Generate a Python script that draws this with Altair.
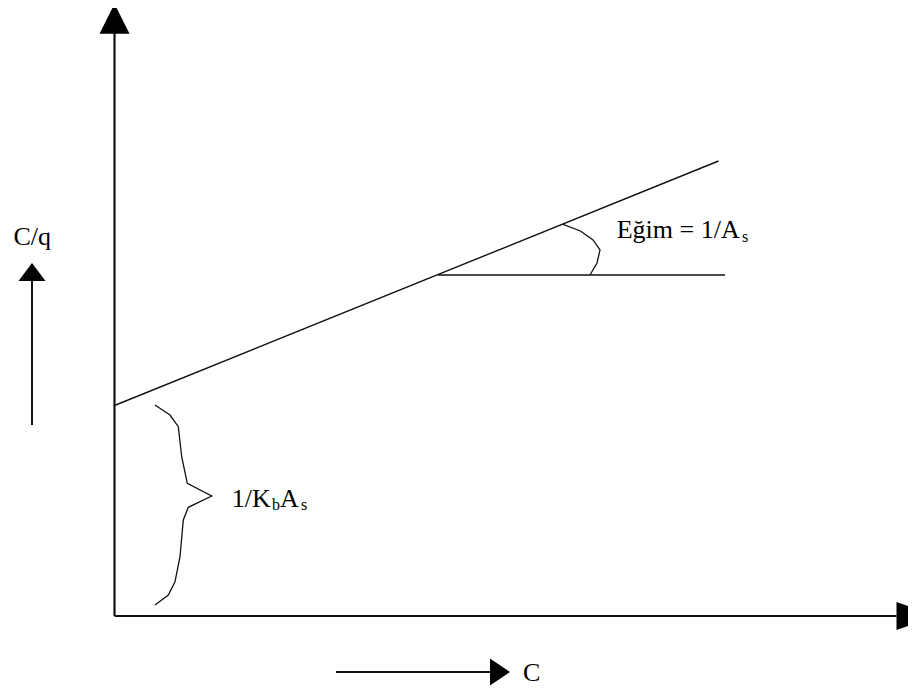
import altair as alt
import pandas as pd

# Schematic units: origin at the axes' corner, C to the right, C/q upwards
X_DOMAIN = [-106.5, 793.5]
Y_DOMAIN = [-72, 608]

# axes
axis_seg = ["C/q", "C/q", "C", "C"]
axis_x = [0, 0, 0, 782]
axis_y = [0, 583, 0, 0]

# straight line C/q = 1/(Kb As) + C/As
fit_x = [0, 604]
fit_y = [210.5, 455]

# horizontal reference for the slope angle
level_x = [323.5, 610.5]
level_y = [341, 341]

# angle arc
arc_x = [448.5, 466, 478.5, 485.5, 482.5, 475.5]
arc_y = [391.7, 385, 376, 366, 353, 341]

# brace for the intercept
brace_x = [40.5, 55.5, 63.8, 67.2, 72.8, 97.2, 73.8, 68.8, 65.5, 60.5, 53.8, 40.5]
brace_y = [211, 201, 189.3, 159.3, 132.7, 120, 108.7, 96, 59.3, 34.3, 21, 11]

# small direction arrows
cq_arrow_x = [-82.5, -82.5]
cq_arrow_y = [191, 335]
c_arrow_x = [221.5, 375.5]
c_arrow_y = [-56, -56]

# arrow heads (positions)
head_top = ([0], [597.3])
head_right = ([801.5], [0])
head_cq = ([-82.5], [344])
head_c = ([385.5], [-56])

# labels
label_text = ["C/q", "Eğim = 1/A", "1/K", "A", "C"]
label_x = [-101, 502.2, 117.2, 165.5, 408.5]
label_y = [371, 377.7, 109.3, 109.3, -64.5]

sub_text = ["s", "b", "s"]
sub_x = [627.5, 157.5, 186.5]
sub_y = [374.4, 106, 106]

FONT = "Liberation Serif"

xs = alt.Scale(domain=X_DOMAIN, nice=False, zero=False)
ys = alt.Scale(domain=Y_DOMAIN, nice=False, zero=False)


def enc(ch, with_order=False):
    e = dict(
        x=alt.X("x:Q", scale=xs, axis=None),
        y=alt.Y("y:Q", scale=ys, axis=None),
    )
    if with_order:
        e["order"] = alt.Order("i:Q")
    return ch.encode(**e)


def path_df(xv, yv, seg=None):
    d = pd.DataFrame({"x": xv, "y": yv, "i": list(range(len(xv)))})
    if seg is not None:
        d["seg"] = seg
    return d


layers = []

# axes
axes = alt.Chart(path_df(axis_x, axis_y, axis_seg)).mark_line(
    color="#111", strokeWidth=2.2
).encode(
    x=alt.X("x:Q", scale=xs, axis=None),
    y=alt.Y("y:Q", scale=ys, axis=None),
    detail="seg:N",
    order=alt.Order("i:Q"),
)
layers.append(axes)

for xv, yv, w in [
    (fit_x, fit_y, 1.4),
    (level_x, level_y, 1.6),
    (arc_x, arc_y, 1.3),
    (brace_x, brace_y, 1.3),
    (cq_arrow_x, cq_arrow_y, 2),
    (c_arrow_x, c_arrow_y, 2),
]:
    layers.append(
        enc(alt.Chart(path_df(xv, yv)).mark_line(color="#111", strokeWidth=w,
                                                 interpolate="linear"), True)
    )

for (hx, hy), shape, size in [
    (head_top, "M0,-1L1,1L-1,1Z", 900),
    (head_right, "M-1,-0.72L1,0L-1,0.72Z", 1521),
    (head_cq, "M0,-0.667L1,0.667L-1,0.667Z", 729),
    (head_c, "M-0.74,-1L0.74,0L-0.74,1Z", 729),
]:
    layers.append(
        enc(alt.Chart(pd.DataFrame({"x": hx, "y": hy})).mark_point(
            shape=shape, size=size, filled=True, color="black", opacity=1,
            strokeWidth=0))
    )

layers.append(
    enc(alt.Chart(pd.DataFrame({"x": label_x, "y": label_y, "t": label_text}))
        .mark_text(font=FONT, fontSize=26, align="left", baseline="alphabetic",
                   color="black"))
    .encode(text="t:N")
)
layers.append(
    enc(alt.Chart(pd.DataFrame({"x": sub_x, "y": sub_y, "t": sub_text}))
        .mark_text(font=FONT, fontSize=16, align="left", baseline="alphabetic",
                   color="black"))
    .encode(text="t:N")
)

chart = alt.layer(*layers).properties(
    width=900, height=680, padding=0,
    autosize=alt.AutoSizeParams(type="none"),
).configure_view(stroke=None)

chart.save("out.html", embed_options={"renderer": "svg", "actions": False})
